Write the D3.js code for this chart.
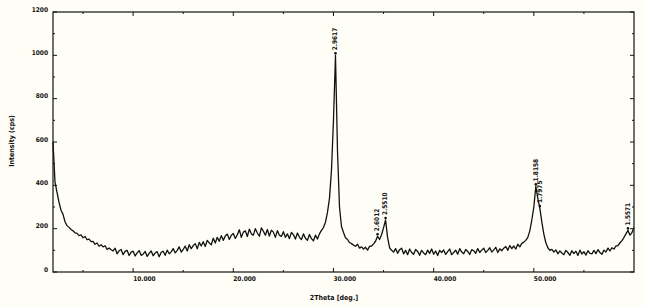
<!DOCTYPE html>
<html>
<head>
<meta charset="utf-8">
<script src="https://cdn.jsdelivr.net/npm/d3@7"></script>
<style>
  html, body { margin: 0; padding: 0; background: #fffef6; }
  svg { display: block; }
  text { font-family: "DejaVu Sans Condensed", "DejaVu Sans", sans-serif; font-weight: bold; fill: #111; }
</style>
</head>
<body>
<svg id="chart" width="645" height="306"></svg>
<script>
// ---- Data ----
const startAngle = 2.0;   // 2Theta of first count
const stepAngle = 0.2;    // 2Theta step
// intensity (cps), 5 values per degree
const counts = [
  600, 415, 368, 322, 285,   // 2
  266, 232, 214, 206, 196,   // 3
  190, 181, 178, 168, 171,   // 4
  158, 164, 149, 152, 140,   // 5
  141, 128, 134, 119, 126,   // 6
  116, 121, 104, 111, 103,   // 7
  97, 110, 84, 98, 104,      // 8
  80, 95, 100, 76, 92,       // 9
  96, 74, 88, 99, 77,        // 10
  82, 95, 72, 86, 97,        // 11
  75, 88, 94, 70, 91,        // 12
  96, 77, 101, 84, 93,       // 13
  108, 88, 100, 116, 92,     // 14
  104, 120, 97, 126, 108,    // 15
  122, 131, 107, 137, 120,   // 16
  140, 118, 146, 134, 126,   // 17
  156, 134, 160, 142, 168,   // 18
  146, 166, 175, 150, 170,   // 19
  178, 155, 172, 195, 160,   // 20
  184, 190, 164, 198, 176,   // 21
  170, 200, 180, 165, 204,   // 22
  188, 170, 196, 166, 193,   // 23
  184, 160, 191, 170, 164,   // 24
  186, 160, 176, 154, 183,   // 25
  172, 152, 180, 160, 150,   // 26
  176, 156, 146, 173, 154,   // 27
  144, 170, 152, 176, 192,   // 28
  205, 230, 275, 340, 470,   // 29
  700, 1000, 560, 300, 210,  // 30
  182, 158, 150, 136, 131,   // 31
  124, 119, 128, 110, 116,   // 32
  106, 114, 101, 118, 120,   // 33
  130, 142, 165, 150, 172,   // 34
  205, 240, 160, 112, 100,   // 35
  92, 108, 86, 103, 110,     // 36
  84, 100, 80, 106, 90,      // 37
  82, 104, 95, 77, 100,      // 38
  88, 80, 101, 86, 106,      // 39
  82, 97, 76, 100, 90,       // 40
  102, 81, 94, 106, 80,      // 41
  90, 101, 82, 108, 92,      // 42
  84, 104, 95, 81, 103,      // 43
  98, 86, 108, 90, 101,      // 44
  110, 90, 100, 112, 92,     // 45
  102, 114, 90, 107, 98,     // 46
  110, 118, 100, 122, 108,   // 47
  120, 106, 128, 116, 132,   // 48
  138, 146, 160, 190, 240,   // 49
  300, 395, 340, 295, 230,   // 50
  175, 135, 112, 100, 104,   // 51
  92, 102, 84, 97, 88,       // 52
  80, 100, 90, 77, 98,       // 53
  85, 96, 76, 101, 83,       // 54
  94, 78, 98, 86, 84,        // 55
  100, 85, 103, 90, 82,      // 56
  101, 92, 110, 97, 112,     // 57
  106, 120, 122, 135, 145,   // 58
  160, 176, 192, 170, 182,   // 59
  205                        // 60
];
const peakLabels = ["2.9617", "2.6012", "2.5510", "1.8158", "1.7975", "1.5571"];
const peakAngles = [30.2, 34.4, 35.2, 50.2, 50.6, 59.4];
const peakHeights = [1000, 165, 240, 395, 295, 192];
const xTickValues = [10, 20, 30, 40, 50];
const xTickLabels = ["10.000", "20.000", "30.000", "40.000", "50.000"];
const yTickValues = [0, 200, 400, 600, 800, 1000, 1200];
const xTitle = "2Theta [deg.]";
const yTitle = "Intensity (cps)";

// ---- Layout ----
const svg = d3.select("#chart");
const L = 53, R = 634, T = 12, B = 272;
const x = d3.scaleLinear().domain([2, 60]).range([L, R]);
const y = d3.scaleLinear().domain([0, 1200]).range([B, T]);

const scan = counts.map((c, i) => ({ a: startAngle + i * stepAngle, c }));

// frame
svg.append("rect").attr("x", L).attr("y", T).attr("width", R - L).attr("height", B - T)
  .attr("fill", "none").attr("stroke", "#111").attr("stroke-width", 1.2);

// ticks (inward)
const g = svg.append("g").attr("stroke", "#111").attr("stroke-width", 1);
d3.range(0, 1201, 100).forEach(v => {
  const len = v % 200 === 0 ? 4 : 2;
  g.append("line").attr("x1", L).attr("x2", L + len).attr("y1", y(v)).attr("y2", y(v));
  g.append("line").attr("x1", R).attr("x2", R - len).attr("y1", y(v)).attr("y2", y(v));
});
d3.range(5, 60, 5).forEach(v => {
  const len = v % 10 === 0 ? 4 : 2;
  g.append("line").attr("x1", x(v)).attr("x2", x(v)).attr("y1", B).attr("y2", B - len);
  g.append("line").attr("x1", x(v)).attr("x2", x(v)).attr("y1", T).attr("y2", T + len);
});

// y tick labels
svg.append("g").selectAll("text").data(yTickValues).join("text")
  .attr("x", L - 5).attr("y", d => y(d) - 2)
  .attr("text-anchor", "end").attr("dominant-baseline", "middle")
  .attr("font-size", 6.5).text(d => d);

// x tick labels
svg.append("g").selectAll("text").data(xTickValues).join("text")
  .attr("x", (d) => x(d)).attr("y", B + 7)
  .attr("text-anchor", "start").attr("dominant-baseline", "middle")
  .attr("font-size", 6.5).text((d, i) => xTickLabels[i]);

// axis titles
svg.append("text").attr("x", 334).attr("y", 298)
  .attr("text-anchor", "middle").attr("dominant-baseline", "middle")
  .attr("font-size", 7).attr("font-family", "DejaVu Sans Mono")
  .text(xTitle);
svg.append("text").attr("transform", "translate(12,141) rotate(-90)")
  .attr("text-anchor", "middle").attr("dominant-baseline", "middle")
  .attr("font-size", 7).attr("font-family", "DejaVu Sans Mono")
  .text(yTitle);

// data line
const line = d3.line().x(d => x(d.a)).y(d => y(d.c));
svg.append("path").datum(scan).attr("d", line)
  .attr("fill", "none").attr("stroke", "#111").attr("stroke-width", 1.3)
  .attr("stroke-linejoin", "round");

// peak markers + labels
peakLabels.forEach((lab, i) => {
  const px = x(peakAngles[i]), py = y(peakHeights[i]);
  svg.append("circle").attr("cx", px).attr("cy", py - 2).attr("r", 1.3).attr("fill", "#111");
  svg.append("text").attr("transform", `translate(${px},${py - 5}) rotate(-90)`)
    .attr("text-anchor", "start").attr("dominant-baseline", "middle")
    .attr("font-size", 6.5).text(lab);
});
</script>
</body>
</html>
